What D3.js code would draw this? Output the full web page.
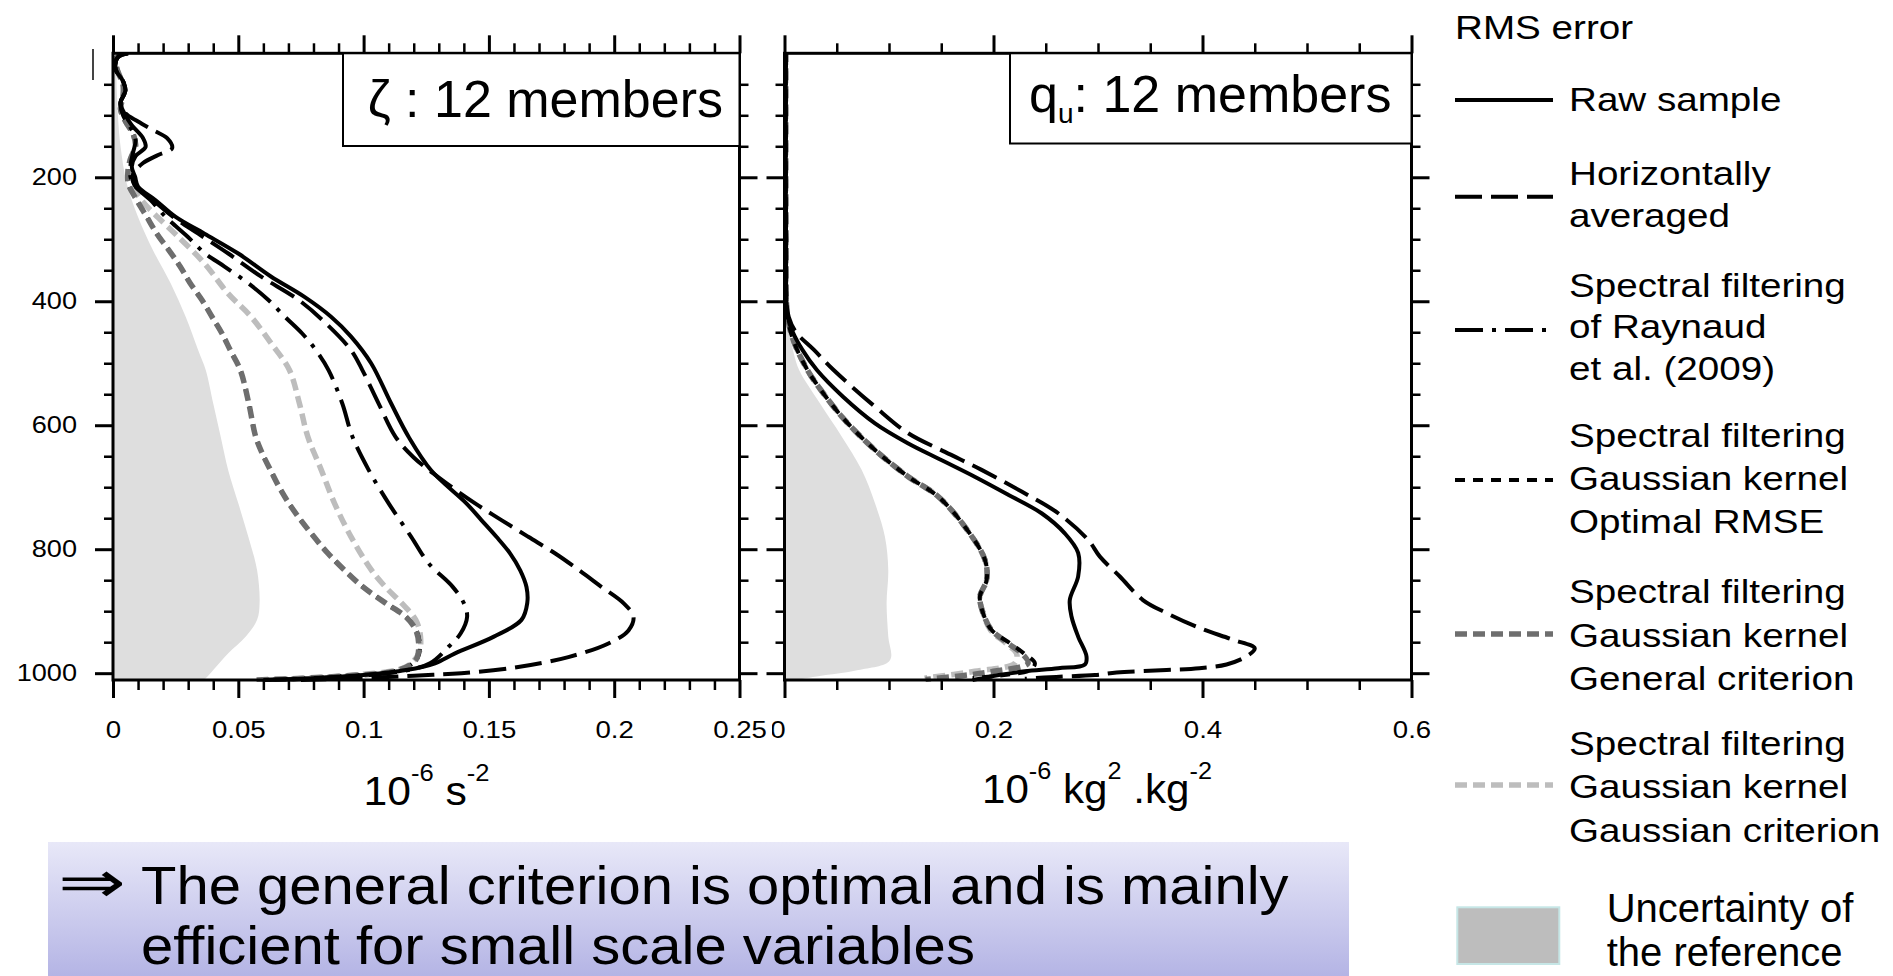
<!DOCTYPE html>
<html><head><meta charset="utf-8">
<script src="https://cdn.jsdelivr.net/npm/d3@7"></script>
<style>
body{margin:0;background:#fff;}
svg{display:block;font-family:"Liberation Sans",Arial,Helvetica,sans-serif;}
</style></head><body>
<svg id="c" width="1893" height="976"></svg>
<script>
// ---------------- DATA (pairs are [pressure, value]) ----------------
const yMajorTicks = [200, 400, 600, 800, 1000];
const yTickLabels = ['200', '400', '600', '800', '1000'];
const xMajorLeft = [0, 0.05, 0.1, 0.15, 0.2, 0.25];
const xLabelsLeft = ['0', '0.05', '0.1', '0.15', '0.2', '0.25'];
const xMajorRight = [0, 0.2, 0.4, 0.6];
const xLabelsRight = ['0', '0.2', '0.4', '0.6'];

// zeta panel (10^-6 s^-2)
const zetaRaw = [[0,0.006],[6,0.002],[25,0.001],[45,0.004],[60,0.005],[80,0.003],[100,0.005],[116,0.0075],[137,0.012],[151,0.013],[166,0.009],[183,0.0075],[199,0.0088],[215,0.010],[237,0.017],[264,0.025],[291,0.0365],[323,0.050],[360,0.063],[393,0.0764],[425,0.087],[457,0.095],[500,0.103],[565,0.111],[619,0.118],[673,0.127],[726,0.141],[753,0.147],[780,0.153],[807,0.1585],[834,0.1625],[861,0.165],[887,0.1653],[914,0.163],[941,0.152],[968,0.1365],[984,0.1285],[995,0.117],[1003,0.10],[1008,0.08],[1011,0.06]];
const zetaHoriz = [[0,0.006],[6,0.002],[25,0.001],[45,0.004],[60,0.005],[80,0.003],[97,0.005],[110,0.010],[124,0.016],[137,0.0216],[153,0.0236],[164,0.018],[177,0.012],[195,0.008],[212,0.0085],[237,0.016],[264,0.024],[291,0.034],[323,0.046],[360,0.059],[398,0.0741],[435,0.0848],[479,0.095],[511,0.0995],[565,0.106],[619,0.1128],[652,0.120],[689,0.1315],[726,0.1445],[753,0.155],[780,0.1657],[807,0.1765],[834,0.186],[861,0.195],[887,0.2037],[909,0.2077],[931,0.2057],[952,0.1977],[974,0.1817],[990,0.1617],[1000,0.139],[1004,0.12],[1008,0.10],[1011,0.075]];
const zetaRaynaud = [[0,0.006],[6,0.002],[25,0.001],[45,0.004],[60,0.005],[80,0.003],[100,0.004],[120,0.007],[140,0.009],[160,0.008],[180,0.007],[200,0.007],[215,0.009],[237,0.015],[264,0.021],[296,0.0298],[322,0.0365],[344,0.0445],[371,0.054],[398,0.062],[425,0.0686],[452,0.0755],[479,0.081],[511,0.086],[565,0.0915],[618,0.0955],[672,0.102],[726,0.110],[780,0.119],[823,0.126],[860,0.1354],[887,0.140],[909,0.1413],[936,0.1387],[957,0.134],[984,0.1265],[997,0.115],[1005,0.095],[1009,0.075],[1011,0.06]];
const zetaOptimal = [[0,0.004],[10,0.001],[30,0.002],[50,0.004],[70,0.004],[90,0.003],[110,0.005],[130,0.008],[150,0.009],[170,0.007],[190,0.006],[210,0.0061],[237,0.0095],[264,0.0135],[291,0.0175],[317,0.0222],[344,0.0268],[371,0.0308],[398,0.0355],[425,0.0395],[452,0.0435],[479,0.0468],[511,0.0508],[565,0.0542],[618,0.0569],[645,0.0595],[672,0.0628],[699,0.0662],[726,0.0702],[753,0.0749],[780,0.0802],[806,0.0856],[833,0.0922],[860,0.0995],[887,0.1088],[909,0.1168],[930,0.121],[957,0.1225],[979,0.121],[995,0.114],[1005,0.09],[1011,0.057]];
const zetaGeneral = [[0,0.004],[10,0.001],[30,0.002],[50,0.004],[70,0.004],[90,0.003],[110,0.005],[130,0.008],[150,0.009],[170,0.007],[190,0.006],[210,0.0061],[237,0.0095],[264,0.0135],[291,0.0175],[317,0.0222],[344,0.0268],[371,0.0308],[398,0.0355],[425,0.0395],[452,0.0435],[479,0.0468],[511,0.0508],[565,0.0542],[618,0.0569],[645,0.0595],[672,0.0628],[699,0.0662],[726,0.0702],[753,0.0749],[780,0.0802],[806,0.0856],[833,0.0922],[860,0.0995],[887,0.1088],[909,0.1168],[930,0.1208],[957,0.122],[979,0.1208],[995,0.114],[1005,0.09],[1011,0.057]];
const zetaGaussian = [[0,0.004],[10,0.001],[30,0.002],[50,0.004],[70,0.004],[90,0.003],[110,0.005],[130,0.008],[150,0.009],[170,0.007],[190,0.006],[210,0.007],[240,0.012],[265,0.018],[293,0.0253],[339,0.0365],[387,0.0458],[425,0.0551],[468,0.0631],[511,0.0704],[565,0.0744],[618,0.0777],[672,0.0831],[726,0.0884],[780,0.095],[833,0.103],[860,0.1085],[887,0.1152],[914,0.1208],[941,0.1227],[968,0.122],[990,0.1168],[1003,0.0968],[1011,0.061]];
const zetaUncert = [[0,0],[10,0.001],[60,0.0015],[103,0.002],[150,0.003],[210,0.0055],[264,0.010],[318,0.016],[371,0.023],[425,0.029],[479,0.034],[511,0.037],[565,0.040],[619,0.043],[673,0.046],[726,0.050],[780,0.054],[834,0.0575],[887,0.0585],[914,0.0575],[941,0.053],[968,0.046],[995,0.040],[1008,0.037],[1011,0.035]];

// q_u panel (10^-6 kg^2 kg^-2)
const quRaw = [[0,0.0012],[100,0.0012],[200,0.0012],[300,0.0015],[400,0.0018],[425,0.003],[450,0.008],[478,0.017],[511,0.031],[554,0.056],[597,0.0866],[629,0.118],[656,0.150],[683,0.182],[712,0.214],[742,0.246],[774,0.268],[806,0.281],[844,0.281],[882,0.273],[909,0.2747],[941,0.281],[973,0.289],[986,0.2875],[992,0.262],[997,0.23],[1003,0.205],[1008,0.19],[1011,0.18]];
const quHoriz = [[0,0.0012],[100,0.0012],[200,0.0012],[300,0.0015],[400,0.0018],[425,0.004],[450,0.011],[478,0.028],[511,0.047],[570,0.0866],[613,0.1184],[643,0.1535],[672,0.1886],[707,0.2269],[742,0.2619],[785,0.2906],[812,0.3018],[844,0.3209],[882,0.343],[903,0.3656],[927,0.397],[946,0.429],[960,0.450],[973,0.442],[986,0.423],[992,0.397],[995,0.3656],[999,0.3178],[1003,0.297],[1006,0.26],[1009,0.23]];
const quOptimal = [[0,0.0012],[100,0.0012],[200,0.0012],[300,0.0015],[400,0.0018],[425,0.003],[450,0.006],[478,0.012],[511,0.022],[527,0.028],[586,0.0547],[640,0.0866],[683,0.1184],[715,0.147],[764,0.1727],[817,0.1918],[850,0.1934],[876,0.187],[903,0.190],[930,0.198],[952,0.216],[968,0.229],[984,0.2396],[995,0.235],[1003,0.21],[1008,0.18]];
const quGeneral = [[0,0.0012],[100,0.0012],[200,0.0012],[300,0.0015],[400,0.0018],[425,0.003],[450,0.006],[478,0.012],[511,0.022],[527,0.028],[586,0.0547],[640,0.0866],[683,0.1184],[715,0.147],[764,0.1727],[817,0.1918],[850,0.1934],[876,0.187],[903,0.190],[930,0.198],[952,0.214],[968,0.227],[984,0.233],[997,0.20],[1004,0.17],[1010,0.135]];
const quGaussian = [[0,0.0012],[100,0.0012],[200,0.0012],[300,0.0015],[400,0.0018],[425,0.003],[450,0.006],[478,0.012],[511,0.022],[527,0.028],[586,0.0547],[640,0.0866],[683,0.1184],[715,0.147],[764,0.1727],[817,0.1918],[850,0.1934],[876,0.187],[903,0.190],[930,0.197],[952,0.212],[968,0.222],[984,0.2205],[997,0.182],[1008,0.134]];
const quUncert = [[0,0],[390,0.0005],[425,0.002],[455,0.005],[485,0.009],[511,0.014],[565,0.034],[618,0.0547],[672,0.0738],[726,0.0866],[780,0.0961],[834,0.0993],[887,0.0977],[941,0.0993],[979,0.1009],[995,0.0706],[1005,0.0323],[1011,0.01]];

const legendTitle = 'RMS error';
const legendLabels = {
  raw: ['Raw sample'],
  horiz: ['Horizontally', 'averaged'],
  raynaud: ['Spectral filtering', 'of Raynaud', 'et al. (2009)'],
  optimal: ['Spectral filtering', 'Gaussian kernel', 'Optimal RMSE'],
  general: ['Spectral filtering', 'Gaussian kernel', 'General criterion'],
  gaussian: ['Spectral filtering', 'Gaussian kernel', 'Gaussian criterion']
};
const uncertLabel = ['Uncertainty of', 'the reference'];
const conclusion = ['The general criterion is optimal and is mainly', 'efficient for small scale variables'];

// ---------------- RENDER ----------------
const FONT = '"Liberation Sans", Arial, Helvetica, sans-serif';
const svg = d3.select('#c');
const defs = svg.append('defs');

const styles = {
  raw:      {stroke:'#000',    width:4,   dash:null},
  horiz:    {stroke:'#000',    width:4,   dash:'27 9'},
  raynaud:  {stroke:'#000',    width:4,   dash:'28 9 4 9'},
  optimal:  {stroke:'#000',    width:4,   dash:'10 8'},
  general:  {stroke:'#6e6e6e', width:5.5, dash:'12 6'},
  gaussian: {stroke:'#bdbdbd', width:5.5, dash:'12 6'}
};

function stretch(sel, k){
  sel.each(function(){
    const w = this.getComputedTextLength();
    if (w > 0){ this.setAttribute('textLength', (w*k).toFixed(1)); this.setAttribute('lengthAdjust','spacingAndGlyphs'); }
  });
}

const y = d3.scaleLinear().domain([0, 1011]).range([53.3, 680]);
const xL = d3.scaleLinear().domain([0, 0.25]).range([113, 739.5]);
const xR = d3.scaleLinear().domain([0, 0.6]).range([784.5, 1411.5]);

function axis(gen, tx, ty, values, size, fmt, pad){
  const a = svg.append('g').attr('transform', `translate(${tx},${ty})`)
    .call(gen.tickValues(values).tickSize(size).tickSizeOuter(0).tickPadding(pad || 3).tickFormat(fmt));
  a.select('.domain').remove();
  a.selectAll('.tick line').attr('stroke', '#000').attr('stroke-width', size > 12 ? 3 : 2.5);
  a.selectAll('text').attr('font-family', FONT).attr('font-size', 24).attr('fill', '#000');
  return a;
}

defs.append('clipPath').attr('id', 'zeroClip').append('rect')
  .attr('x', -13).attr('y', 0).attr('width', 40).attr('height', 60);

function drawPanel(cfg){
  const x = cfg.x;
  const [x0, x1] = x.range();
  const [y0, y1] = y.range();
  const clipId = 'clip' + cfg.id;
  defs.append('clipPath').attr('id', clipId).append('rect')
    .attr('x', x0).attr('y', y0 - 1).attr('width', x1 - x0).attr('height', y1 - y0 + 3);
  const body = svg.append('g').attr('clip-path', `url(#${clipId})`);
  body.append('path').datum(cfg.unc).attr('fill', '#dedede')
    .attr('d', d3.area().x0(x(0)).x1(d => x(d[1])).y(d => y(d[0])).curve(d3.curveCatmullRom));
  const line = d3.line().x(d => x(d[1])).y(d => y(d[0])).curve(d3.curveCatmullRom.alpha(0.5));
  cfg.series.forEach(s => {
    const st = styles[s.key];
    body.append('path').datum(s.data).attr('d', line).attr('fill', 'none')
      .attr('stroke', st.stroke).attr('stroke-width', st.width)
      .attr('stroke-dasharray', st.dash).attr('stroke-dashoffset', s.offset || 0)
      .attr('stroke-linejoin', 'round');
  });
  svg.append('rect').attr('x', x0).attr('y', y0).attr('width', x1 - x0).attr('height', y1 - y0)
    .attr('fill', 'none').attr('stroke', '#000').attr('stroke-width', 3);

  const fmtX = d => cfg.xLabels[cfg.xMajor.indexOf(d)];
  const bx = axis(d3.axisBottom(x), 0, y1, cfg.xMajor, 18, fmtX, 23);
  stretch(bx.selectAll('text'), 1.15);
  if (cfg.cutZero){
    // the first label of the right panel is partly hidden behind the neighbouring panel
    bx.selectAll('.tick').filter(d => d === 0).select('text')
      .attr('x', -7).attr('clip-path', 'url(#zeroClip)');
  }
  axis(d3.axisBottom(x), 0, y1, cfg.xMinor, 10, '');
  axis(d3.axisTop(x), 0, y0, cfg.xMajor, 18, '');
  axis(d3.axisTop(x), 0, y0, cfg.xMinor, 10, '');
  const yMinor = d3.range(1, 21).filter(i => i % 4 !== 0).map(i => i * 50);
  const ly = axis(d3.axisLeft(y), x0, 0, yMajorTicks, 18,
    cfg.yLabels ? (d => yTickLabels[yMajorTicks.indexOf(d)]) : '', 18);
  stretch(ly.selectAll('text'), 1.13);
  axis(d3.axisLeft(y), x0, 0, yMinor, 9, '');
  axis(d3.axisRight(y), x1, 0, yMajorTicks, 18, '');
  axis(d3.axisRight(y), x1, 0, yMinor, 9, '');
}

drawPanel({
  id: 'L', x: xL, unc: zetaUncert, yLabels: true,
  xMajor: xMajorLeft, xLabels: xLabelsLeft,
  xMinor: d3.range(1, 25).filter(i => i % 5 !== 0).map(i => i / 100),
  series: [
    {key:'gaussian', data: zetaGaussian},
    {key:'optimal', data: zetaOptimal},
    {key:'general', data: zetaGeneral},
    {key:'raynaud', data: zetaRaynaud},
    {key:'horiz', data: zetaHoriz},
    {key:'raw', data: zetaRaw}
  ]
});
drawPanel({
  id: 'R', x: xR, unc: quUncert, yLabels: false, cutZero: true,
  xMajor: xMajorRight, xLabels: xLabelsRight,
  xMinor: d3.range(1, 12).filter(i => i % 4 !== 0).map(i => i * 0.05),
  series: [
    {key:'gaussian', data: quGaussian},
    {key:'general', data: quGeneral, offset: 3},
    {key:'optimal', data: quOptimal, offset: 14},
    {key:'horiz', data: quHoriz},
    {key:'raw', data: quRaw}
  ]
});

// Title boxes
svg.append('rect').attr('x', 343).attr('y', 53.3).attr('width', 396.5).attr('height', 92.7)
  .attr('fill', '#fff').attr('stroke', '#000').attr('stroke-width', 2);
svg.append('text').attr('x', 723).attr('y', 116.7).attr('text-anchor', 'end')
  .attr('font-size', 52).attr('font-family', FONT).text('ζ : 12 members');
svg.append('rect').attr('x', 1010).attr('y', 53.3).attr('width', 401.5).attr('height', 90.2)
  .attr('fill', '#fff').attr('stroke', '#000').attr('stroke-width', 2);
const tq = svg.append('text').attr('x', 1029).attr('y', 111.7).attr('font-size', 52).attr('font-family', FONT);
tq.append('tspan').text('q');
tq.append('tspan').attr('font-size', 28).attr('dy', 11).text('u');
tq.append('tspan').attr('font-size', 52).attr('dy', -11).text(': 12 members');

// x-axis unit labels
function unitLabel(x, yb, parts, width){
  const t = svg.append('text').attr('x', x).attr('y', yb).attr('font-family', FONT).attr('font-size', 40);
  let cur = 0;
  parts.forEach(p => {
    const shift = p.sup ? -24 : 0;
    t.append('tspan').attr('font-size', p.sup ? 24 : 40).attr('dy', shift - cur).text(p.t);
    cur = shift;
  });
  t.attr('textLength', width).attr('lengthAdjust', 'spacingAndGlyphs');
}
unitLabel(363.5, 805, [{t:'10'},{t:'-6',sup:1},{t:' s'},{t:'-2',sup:1}], 126);
unitLabel(982, 803, [{t:'10'},{t:'-6',sup:1},{t:' kg'},{t:'2',sup:1},{t:' .kg'},{t:'-2',sup:1}], 230);

// small artefact line near top-left
svg.append('line').attr('x1', 93).attr('x2', 93).attr('y1', 49).attr('y2', 80)
  .attr('stroke', '#444').attr('stroke-width', 2);

// Legend
const lg = svg.append('g').attr('font-family', FONT).attr('font-size', 33);
stretch(lg.append('text').attr('x', 1455).attr('y', 39.3).text(legendTitle), 1.17);
const legendLayout = [
  {key:'raw', ly:100, ty:[110.7]},
  {key:'horiz', ly:196.7, ty:[185, 226.7]},
  {key:'raynaud', ly:330, ty:[296.7, 338.3, 380]},
  {key:'optimal', ly:480, ty:[446.7, 490, 533.3]},
  {key:'general', ly:634, ty:[603.3, 646.7, 690]},
  {key:'gaussian', ly:785, ty:[755, 798.3, 841.7]}
];
legendLayout.forEach(it => {
  const st = styles[it.key];
  lg.append('line').attr('x1', 1455).attr('x2', 1553).attr('y1', it.ly).attr('y2', it.ly)
    .attr('stroke', st.stroke).attr('stroke-width', st.width).attr('stroke-dasharray', st.dash);
  legendLabels[it.key].forEach((s, i) => {
    stretch(lg.append('text').attr('x', 1569).attr('y', it.ty[i]).text(s), 1.17);
  });
});
svg.append('rect').attr('x', 1457.3).attr('y', 907.3).attr('width', 102).attr('height', 56.7)
  .attr('fill', '#bdbdbd').attr('stroke', '#c6e6e6').attr('stroke-width', 2);
uncertLabel.forEach((s, i) => {
  svg.append('text').attr('x', 1606.7).attr('y', 922 + i * 44).attr('font-family', FONT)
    .attr('font-size', 40).text(s);
});

// Conclusion box
const grad = defs.append('linearGradient').attr('id', 'lav').attr('x1', 0).attr('x2', 0).attr('y1', 0).attr('y2', 1);
grad.append('stop').attr('offset', '0%').attr('stop-color', '#e8e8f8');
grad.append('stop').attr('offset', '100%').attr('stop-color', '#b2b2e4');
svg.append('rect').attr('x', 48).attr('y', 842).attr('width', 1301).attr('height', 140).attr('fill', 'url(#lav)');
svg.append('text').attr('x', 58).attr('y', 902).attr('font-family', '"DejaVu Sans", sans-serif')
  .attr('font-size', 58).attr('textLength', 68).attr('lengthAdjust', 'spacingAndGlyphs').text('⇒');
const concY = [904, 964];
conclusion.forEach((s, i) => {
  const t = svg.append('text').attr('x', 141).attr('y', concY[i]).attr('font-family', FONT)
    .attr('font-size', 53.5).text(s);
  stretch(t, 58 / 53.5);
});
</script>
</body></html>
